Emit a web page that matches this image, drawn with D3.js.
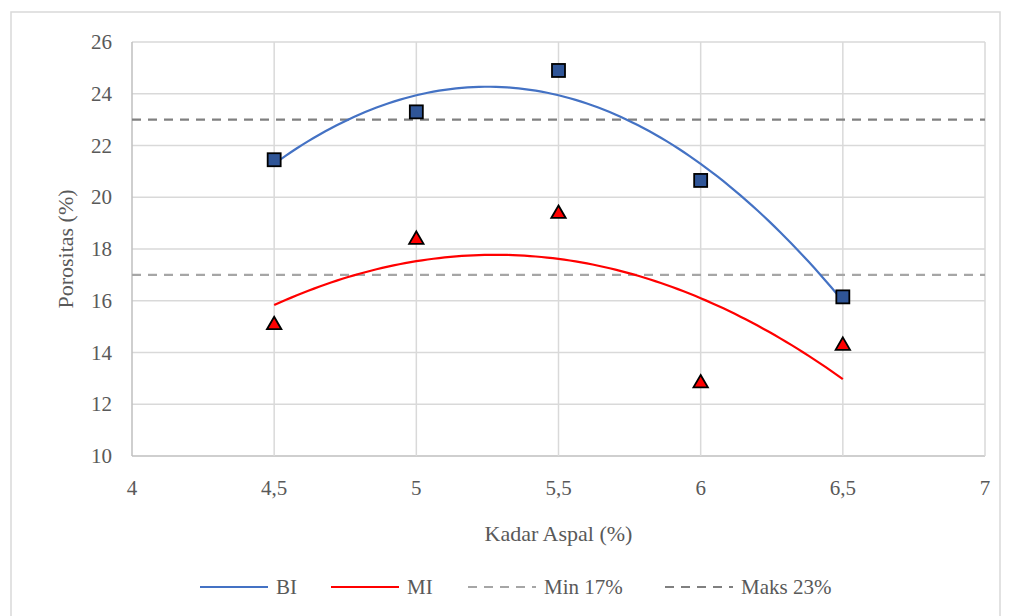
<!DOCTYPE html>
<html>
<head>
<meta charset="utf-8">
<script src="https://cdn.jsdelivr.net/npm/d3@7"></script>
</head>
<body style="margin:0">
<script>
const WIDTH = 1011; // page width
const HEIGHT = 616; // page height
const TEXT_COLOR = "#595959";

// data
const kadarAspal = [4.5, 5, 5.5, 6, 6.5];
const porositasBI = [21.45, 23.3, 24.9, 20.65, 16.15];
const porositasMI = [15.1, 18.4, 19.4, 12.85, 14.3];
const batasMin = 17;
const batasMaks = 23;
const xTicks = [4, 4.5, 5, 5.5, 6, 6.5, 7];
const yTicks = [10, 12, 14, 16, 18, 20, 22, 24, 26];

const margin = {top: 42, right: 26, bottom: 160, left: 132};

const svg = d3.select("body")
  .append("svg")
  .attr("width", WIDTH)
  .attr("height", HEIGHT)
  .attr("font-family", "Liberation Serif");

// chart border
svg.append("rect")
  .attr("x", 11).attr("y", 12)
  .attr("width", 989).attr("height", 620)
  .attr("fill", "none")
  .attr("stroke", "#d9d9d9")
  .attr("stroke-width", 1.5);

const x = d3.scaleLinear().domain([4, 7]).range([margin.left, WIDTH - margin.right]);
const y = d3.scaleLinear().domain([10, 26]).range([HEIGHT - margin.bottom, margin.top]);

// gridlines
svg.append("g")
  .selectAll("line")
  .data(yTicks)
  .enter().append("line")
  .attr("x1", x(4)).attr("x2", x(7))
  .attr("y1", d => y(d)).attr("y2", d => y(d))
  .attr("stroke", d => d === 10 ? "#bfbfbf" : "#d9d9d9")
  .attr("stroke-width", 1.5);

svg.append("g")
  .selectAll("line")
  .data(xTicks)
  .enter().append("line")
  .attr("x1", d => x(d)).attr("x2", d => x(d))
  .attr("y1", y(10)).attr("y2", y(26))
  .attr("stroke", d => d === 4 ? "#bfbfbf" : "#d9d9d9")
  .attr("stroke-width", 1.5);

// helper for serif text
function label(sel, size) {
  return sel
    .attr("font-family", "Liberation Serif")
    .style("font-family", "'Liberation Serif'", "important")
    .style("font-size", size + "px")
    .style("fill", TEXT_COLOR);
}

// tick labels
const fmt = d => String(d).replace(".", ",");
svg.append("g")
  .selectAll("text")
  .data(yTicks)
  .enter().append("text")
  .attr("x", x(4) - 20)
  .attr("y", d => y(d) + 7)
  .attr("text-anchor", "end")
  .call(label, 21)
  .text(d => d);

svg.append("g")
  .selectAll("text")
  .data(xTicks)
  .enter().append("text")
  .attr("x", d => x(d))
  .attr("y", y(10) + 39)
  .attr("text-anchor", "middle")
  .call(label, 21)
  .text(fmt);

// axis titles
svg.append("text")
  .attr("x", (x(4) + x(7)) / 2)
  .attr("y", 541)
  .attr("text-anchor", "middle")
  .call(label, 22)
  .text("Kadar Aspal (%)");

svg.append("text")
  .attr("transform", "translate(73," + ((y(10) + y(26)) / 2) + ") rotate(-90)")
  .attr("text-anchor", "middle")
  .call(label, 22)
  .text("Porositas (%)");

// limit lines
svg.append("line")
  .attr("x1", x(4)).attr("x2", x(7))
  .attr("y1", y(batasMin)).attr("y2", y(batasMin))
  .attr("stroke", "#a6a6a6").attr("stroke-width", 2.2)
  .attr("stroke-dasharray", "9,7");

svg.append("line")
  .attr("x1", x(4)).attr("x2", x(7))
  .attr("y1", y(batasMaks)).attr("y2", y(batasMaks))
  .attr("stroke", "#808080").attr("stroke-width", 2.2)
  .attr("stroke-dasharray", "9,7");

// polynomial (order 2) trendline fitted by least squares, like the spreadsheet does
function fitQuadratic(xs, ys) {
  const n = xs.length;
  let s = [0, 0, 0, 0, 0], t = [0, 0, 0];
  for (let i = 0; i < n; i++) {
    for (let k = 0; k < 5; k++) s[k] += Math.pow(xs[i], k);
    for (let k = 0; k < 3; k++) t[k] += ys[i] * Math.pow(xs[i], k);
  }
  // solve 3x3 normal equations
  const A = [[s[0], s[1], s[2], t[0]], [s[1], s[2], s[3], t[1]], [s[2], s[3], s[4], t[2]]];
  for (let c = 0; c < 3; c++) {
    for (let r = c + 1; r < 3; r++) {
      const f = A[r][c] / A[c][c];
      for (let k = c; k < 4; k++) A[r][k] -= f * A[c][k];
    }
  }
  const b = [0, 0, 0];
  for (let r = 2; r >= 0; r--) {
    let v = A[r][3];
    for (let k = r + 1; k < 3; k++) v -= A[r][k] * b[k];
    b[r] = v / A[r][r];
  }
  return xv => b[0] + b[1] * xv + b[2] * xv * xv;
}

const line = d3.line().x(d => x(d[0])).y(d => y(d[1]));

function drawTrend(ys, color) {
  const f = fitQuadratic(kadarAspal, ys);
  const pts = d3.range(0, 101).map(i => {
    const xv = 4.5 + i * 0.02;
    return [xv, f(xv)];
  });
  svg.append("path")
    .attr("d", line(pts))
    .attr("fill", "none")
    .attr("stroke", color)
    .attr("stroke-width", 2.2);
}
drawTrend(porositasBI, "#4472c4");
drawTrend(porositasMI, "#ff0000");

// markers BI (squares)
svg.append("g")
  .selectAll("rect")
  .data(kadarAspal)
  .enter().append("rect")
  .attr("x", (d) => x(d) - 6.5)
  .attr("y", (d, i) => y(porositasBI[i]) - 6.5)
  .attr("width", 13).attr("height", 13)
  .attr("fill", "#2f5597")
  .attr("stroke", "#000")
  .attr("stroke-width", 1.8);

// markers MI (triangles)
const tri = d3.symbol().type(d3.symbolTriangle).size(90);
svg.append("g")
  .selectAll("path")
  .data(kadarAspal)
  .enter().append("path")
  .attr("d", tri)
  .attr("transform", (d, i) => "translate(" + x(d) + "," + (y(porositasMI[i]) + 1) + ")")
  .attr("fill", "#ff0000")
  .attr("stroke", "#000")
  .attr("stroke-width", 1.8);

// legend
const legend = [
  {name: "BI", color: "#4472c4", dash: null, x0: 200},
  {name: "MI", color: "#ff0000", dash: null, x0: 331},
  {name: "Min 17%", color: "#a6a6a6", dash: "9,7", x0: 468},
  {name: "Maks 23%", color: "#808080", dash: "9,7", x0: 665}
];
const ly = 587;
const lg = svg.append("g")
  .selectAll("g")
  .data(legend)
  .enter().append("g");
lg.append("line")
  .attr("x1", d => d.x0).attr("x2", d => d.x0 + 68)
  .attr("y1", ly).attr("y2", ly)
  .attr("stroke", d => d.color)
  .attr("stroke-width", 2.2)
  .attr("stroke-dasharray", d => d.dash);
lg.append("text")
  .attr("x", d => d.x0 + 76)
  .attr("y", ly + 7)
  .call(label, 21)
  .text(d => d.name);
</script>
</body>
</html>
